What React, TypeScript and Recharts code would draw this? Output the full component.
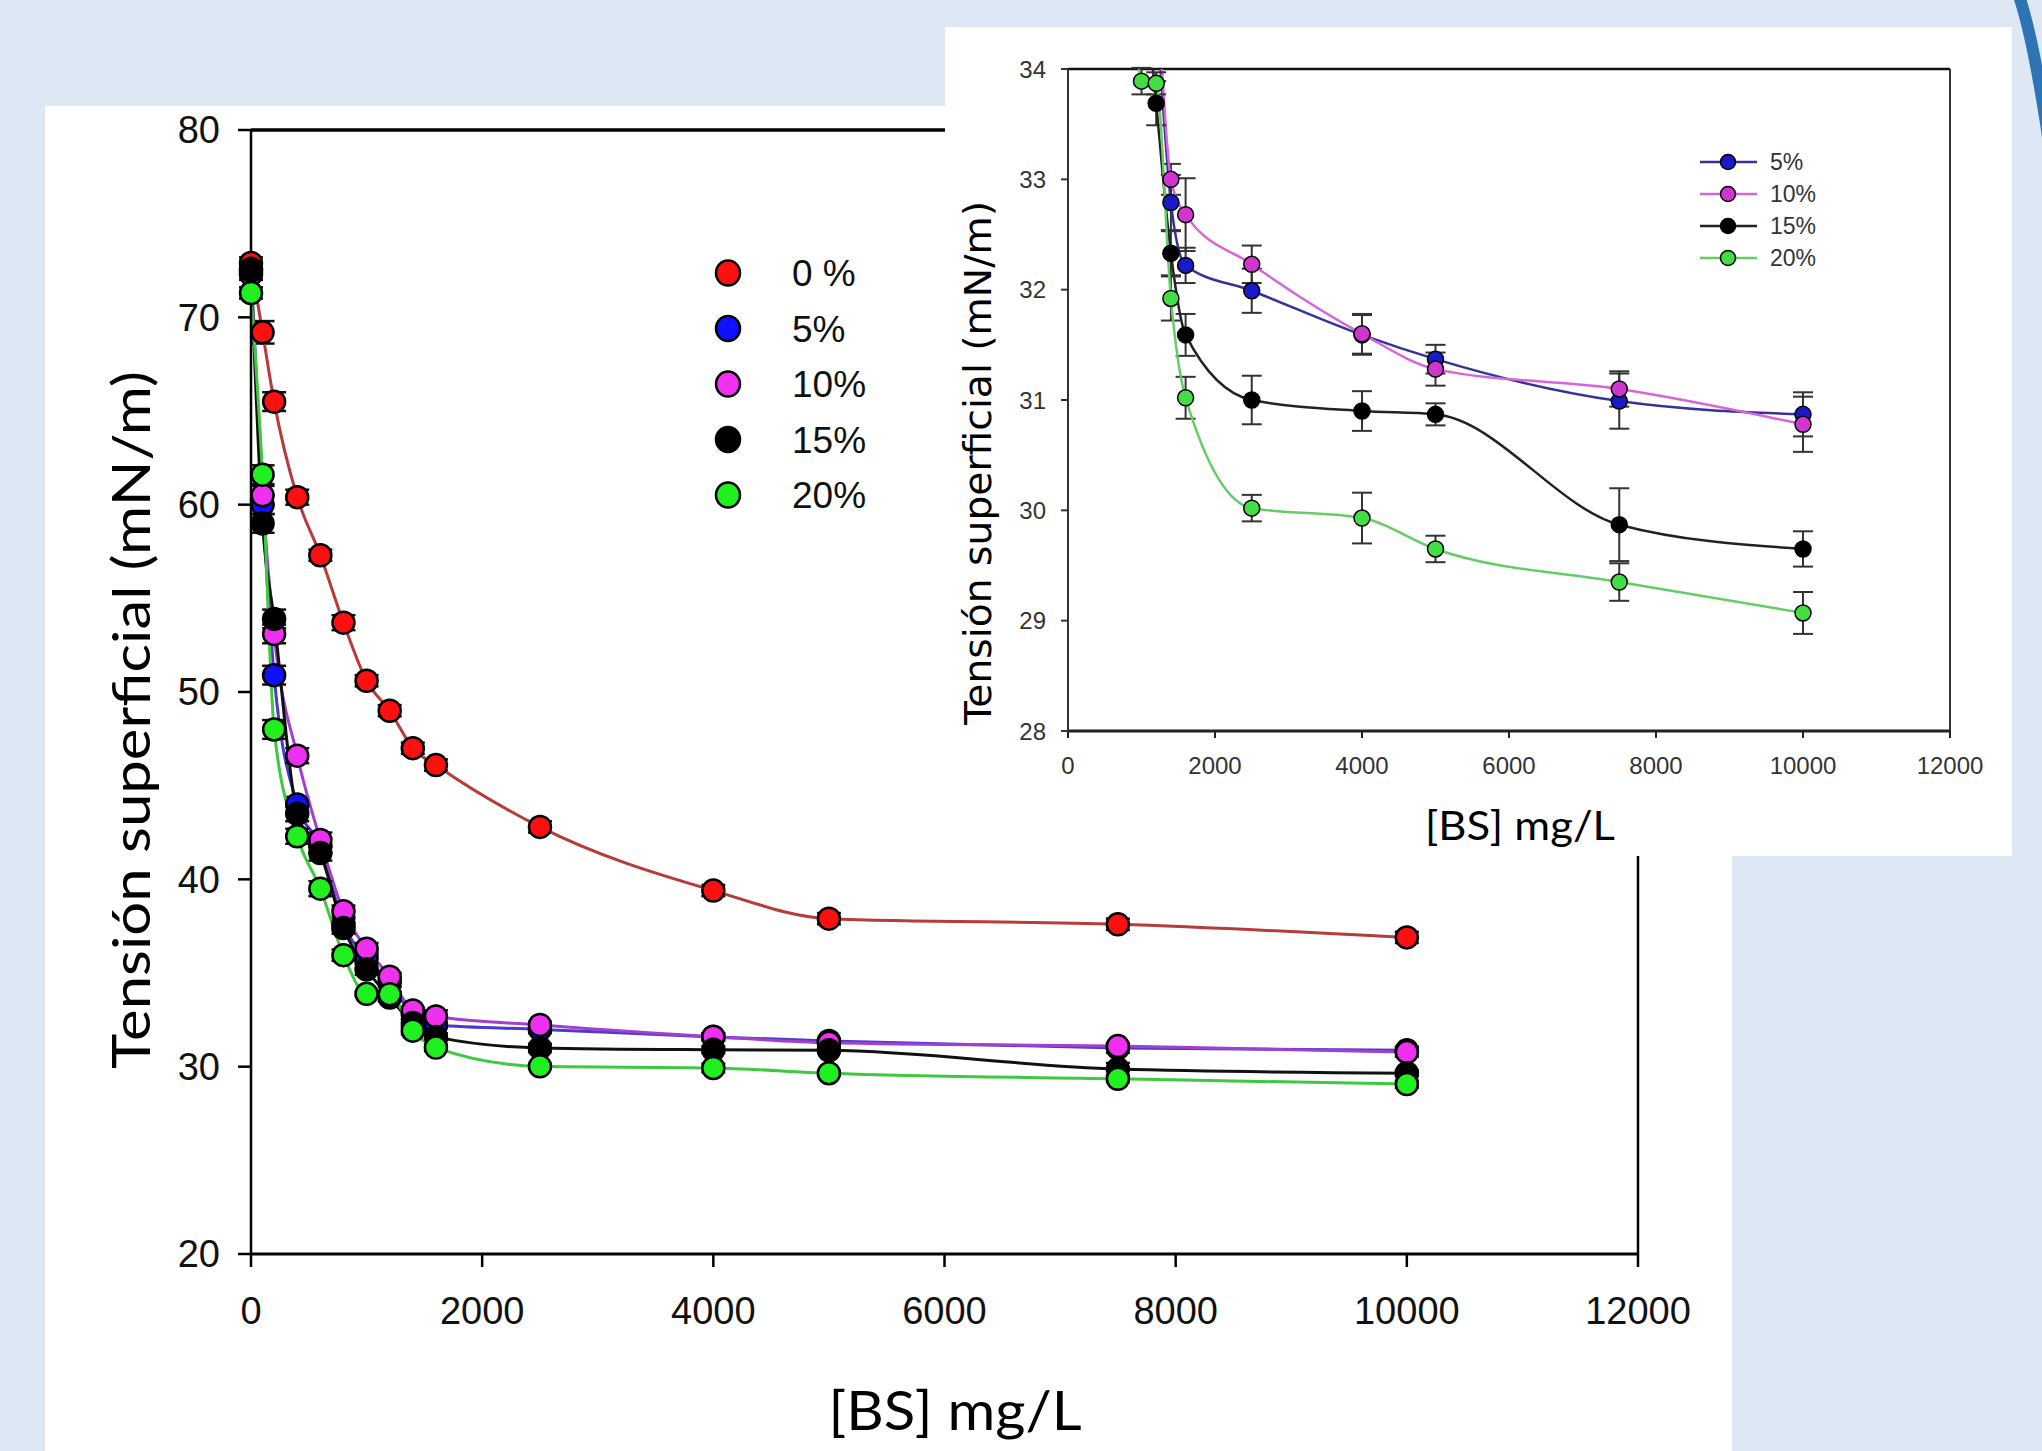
import React from "react";
import { ErrorBar, Legend, Line, LineChart, ReferenceLine, XAxis, YAxis } from "recharts";

// [BS] mg/L
const concentrations = [0, 100, 200, 400, 600, 800, 1000, 1200, 1400, 1600, 2500, 4000, 5000, 7500, 10000];

// tensión superficial (mN/m)
const tension0 = [72.9, 69.2, 65.5, 60.4, 57.3, 53.7, 50.6, 49.0, 47.0, 46.1, 42.8, 39.4, 37.9, 37.6, 36.9];
const tension5 = [72.6, 60.0, 50.9, 44.0, 41.8, 37.6, 35.8, 34.5, 32.79, 32.22, 31.99, 31.59, 31.37, 30.99, 30.87];
const tension10 = [72.3, 60.5, 53.1, 46.6, 42.1, 38.3, 36.3, 34.8, 33.0, 32.68, 32.23, 31.6, 31.28, 31.1, 30.78];
const tension15 = [72.5, 59.0, 53.9, 43.5, 41.4, 37.4, 35.2, 33.69, 32.33, 31.59, 31.0, 30.9, 30.87, 29.87, 29.65];
const tension20 = [71.3, 61.6, 48.0, 42.3, 39.5, 35.95, 33.89, 33.87, 31.92, 31.02, 30.02, 29.93, 29.65, 29.35, 29.07];

// desviación (±)
const err0 = [0.3, 0.6, 0.5, 0.4, 0.3, 0.4, 0.3, 0.3, 0.3, 0.3, 0.3, 0.3, 0.3, 0.3, 0.3];
const err5 = [0.3, 0.5, 0.5, 0.4, 0.4, 0.3, 0.3, 0.25, 0.25, 0.16, 0.2, 0.18, 0.13, 0.25, 0.2];
const err10 = [0.3, 0.5, 0.5, 0.4, 0.4, 0.3, 0.3, 0.2, 0.14, 0.33, 0.17, 0.18, 0.15, 0.16, 0.25];
const err15 = [0.3, 0.5, 0.5, 0.4, 0.4, 0.3, 0.3, 0.2, 0.2, 0.19, 0.22, 0.18, 0.1, 0.33, 0.16];
const err20 = [0.3, 0.5, 0.5, 0.4, 0.4, 0.3, 0.12, 0.1, 0.2, 0.19, 0.12, 0.23, 0.12, 0.17, 0.19];

const xTicks = [0, 2000, 4000, 6000, 8000, 10000, 12000];
const mainYTicks = [20, 30, 40, 50, 60, 70, 80];
const insetYTicks = [28, 29, 30, 31, 32, 33, 34];

const seriesNames = ["0 %", "5%", "10%", "15%", "20%"];
const insetNames = ["5%", "10%", "15%", "20%"];
const insetTop = 34;

const build = (vals: number[], errs: number[]) =>
  concentrations.map((x, i) => ({ x, y: vals[i], err: errs[i] }));

// the inset only shows error bars for points inside its range
const clipErr = (rows: { x: number; y: number; err: number }[]) =>
  rows.map((r) => ({ ...r, err: r.y <= insetTop ? r.err : null }));

const series = [
  { name: "0 %", data: build(tension0, err0), fill: "#ff1010", line: "#b83a3a", inFill: "#ff1010", inLine: "#b83a3a" },
  { name: "5%", data: build(tension5, err5), fill: "#1010ff", line: "#4a3ad0", inFill: "#1a1ac8", inLine: "#33339a" },
  { name: "10%", data: build(tension10, err10), fill: "#f030f0", line: "#a040d0", inFill: "#d035d0", inLine: "#d865d8" },
  { name: "15%", data: build(tension15, err15), fill: "#000000", line: "#111111", inFill: "#000000", inLine: "#222222" },
  { name: "20%", data: build(tension20, err20), fill: "#20f020", line: "#40c840", inFill: "#44dd44", inLine: "#66cc66" },
];

const makeDot = (fill: string, r: number, sw: number) => (props: any) => {
  const { cx, cy, index } = props;
  if (cx == null || cy == null) return <g key={`e-${index}`} />;
  return <circle key={`d-${index}`} cx={cx} cy={cy} r={r} fill={fill} stroke="#000" strokeWidth={sw} />;
};

const arial = "'Liberation Sans', Arial, sans-serif";

function MainLegend() {
  return (
    <svg width={220} height={290}>
      {seriesNames.map((n, i) => {
        const s = series.find((d) => d.name === n)!;
        const cy = 33 + i * 55.5;
        return (
          <g key={n}>
            <ellipse cx={48} cy={cy} rx={12} ry={12.5} fill={s.fill} stroke="#000" strokeWidth={2.5} />
            <text x={112} y={cy + 13} fontSize={37} fontFamily={arial} fill="#111">
              {n}
            </text>
          </g>
        );
      })}
    </svg>
  );
}

function InsetLegend() {
  return (
    <svg width={200} height={160}>
      {insetNames.map((n, i) => {
        const s = series.find((d) => d.name === n)!;
        const cy = 32 + i * 32;
        return (
          <g key={n}>
            <line x1={40} x2={97} y1={cy} y2={cy} stroke={s.inLine} strokeWidth={2.5} />
            <circle cx={68} cy={cy} r={7.5} fill={s.inFill} stroke="#000" strokeWidth={1.5} />
            <text x={110} y={cy + 8} fontSize={23} fontFamily={arial} fill="#333">
              {n}
            </text>
          </g>
        );
      })}
    </svg>
  );
}

export default function App() {
  return (
    <div
      style={{
        position: "absolute",
        left: 0,
        top: 0,
        width: 2042,
        height: 1451,
        background: "#dde8f4",
        overflow: "hidden",
      }}
    >
      {/* gráfico principal */}
      <div style={{ position: "absolute", left: 45, top: 106, width: 1687, height: 1345, background: "#fff" }}>
        <LineChart width={1687} height={1345} margin={{ top: 24, right: 94, left: 106, bottom: 117 }}>
          <XAxis
            dataKey="x"
            type="number"
            domain={[0, 12000]}
            ticks={xTicks}
            height={80}
            tickSize={13}
            tickMargin={30}
            axisLine={{ stroke: "#000", strokeWidth: 3 }}
            tickLine={{ stroke: "#000", strokeWidth: 2.5 }}
            tick={{ fontSize: 38, fontFamily: arial, fill: "#111" }}
          />
          <YAxis
            type="number"
            domain={[20, 80]}
            ticks={mainYTicks}
            width={100}
            tickSize={13}
            tickMargin={18}
            axisLine={{ stroke: "#000", strokeWidth: 2.5 }}
            tickLine={{ stroke: "#000", strokeWidth: 2.5 }}
            tick={{ fontSize: 38, fontFamily: arial, fill: "#111" }}
          />
          <ReferenceLine y={80} stroke="#000" strokeWidth={3.5} />
          <ReferenceLine x={12000} stroke="#000" strokeWidth={2.5} />
          {series.map((s) => (
            <Line
              key={s.name}
              name={s.name}
              data={s.data}
              dataKey="y"
              type="monotone"
              stroke={s.line}
              strokeWidth={3}
              dot={makeDot(s.fill, 11, 2.5)}
              activeDot={false}
              isAnimationActive={false}
            >
              <ErrorBar dataKey="err" width={12} strokeWidth={2.5} stroke="#111" direction="y" />
            </Line>
          ))}
          <Legend
            layout="vertical"
            align="center"
            verticalAlign="middle"
            content={() => <MainLegend />}
            wrapperStyle={{ position: "absolute", left: 635, top: 134, width: 220, height: 290 }}
          />
        </LineChart>
      </div>

      {/* gráfico ampliado */}
      <div style={{ position: "absolute", left: 945, top: 27, width: 1067, height: 829, background: "#fff" }}>
        <LineChart width={1067} height={829} margin={{ top: 42, right: 62, left: 63, bottom: 75 }}>
          <XAxis
            dataKey="x"
            type="number"
            domain={[0, 12000]}
            ticks={xTicks}
            allowDataOverflow
            height={50}
            tickSize={7}
            tickMargin={19}
            axisLine={{ stroke: "#222", strokeWidth: 3 }}
            tickLine={{ stroke: "#222", strokeWidth: 2 }}
            tick={{ fontSize: 24, fontFamily: arial, fill: "#333" }}
          />
          <YAxis
            type="number"
            domain={[28, insetTop]}
            ticks={insetYTicks}
            allowDataOverflow
            width={60}
            tickSize={7}
            tickMargin={15}
            axisLine={{ stroke: "#333", strokeWidth: 2 }}
            tickLine={{ stroke: "#333", strokeWidth: 2 }}
            tick={{ fontSize: 24, fontFamily: arial, fill: "#333" }}
          />
          <ReferenceLine y={insetTop} stroke="#111" strokeWidth={2.5} />
          <ReferenceLine x={12000} stroke="#333" strokeWidth={2} />
          {series
            .filter((s) => insetNames.includes(s.name))
            .map((s) => (
              <Line
                key={s.name}
                name={s.name}
                data={clipErr(s.data)}
                dataKey="y"
                type="monotone"
                stroke={s.inLine}
                strokeWidth={2.5}
                dot={makeDot(s.inFill, 8, 1.5)}
                activeDot={false}
                isAnimationActive={false}
              >
                <ErrorBar dataKey="err" width={10} strokeWidth={2} stroke="#333" direction="y" />
              </Line>
            ))}
          <Legend
            layout="vertical"
            align="center"
            verticalAlign="middle"
            content={() => <InsetLegend />}
            wrapperStyle={{ position: "absolute", left: 715, top: 103, width: 200, height: 160 }}
          />
        </LineChart>
      </div>

      {/* rótulos de ejes */}
      <svg
        width={2042}
        height={1451}
        style={{ position: "absolute", left: 0, top: 0, pointerEvents: "none" }}
      >
        <text
          transform="translate(150 720) rotate(-90)"
          textAnchor="middle"
          fontSize={52}
          fontFamily="Lato, 'Open Sans', sans-serif"
          textLength={698}
          lengthAdjust="spacingAndGlyphs"
          fill="#000"
        >
          Tensión superficial (mN/m)
        </text>
        <text
          x={955}
          y={1430}
          textAnchor="middle"
          fontSize={54}
          fontFamily="Lato, 'Open Sans', sans-serif"
          textLength={253}
          lengthAdjust="spacingAndGlyphs"
          fill="#000"
        >
          [BS] mg/L
        </text>
        <text
          transform="translate(991 463) rotate(-90)"
          textAnchor="middle"
          fontSize={37}
          fontFamily="'DejaVu Sans', Verdana, sans-serif"
          textLength={524}
          lengthAdjust="spacingAndGlyphs"
          fill="#000"
        >
          Tensión superficial (mN/m)
        </text>
        <text
          x={1520}
          y={840}
          textAnchor="middle"
          fontSize={40}
          fontFamily="Lato, 'Open Sans', sans-serif"
          textLength={190}
          lengthAdjust="spacingAndGlyphs"
          fill="#000"
        >
          [BS] mg/L
        </text>
        <path d="M 2019 -4 Q 2034 40 2050 150" fill="none" stroke="#2e74b5" strokeWidth={12} />
      </svg>
    </div>
  );
}
